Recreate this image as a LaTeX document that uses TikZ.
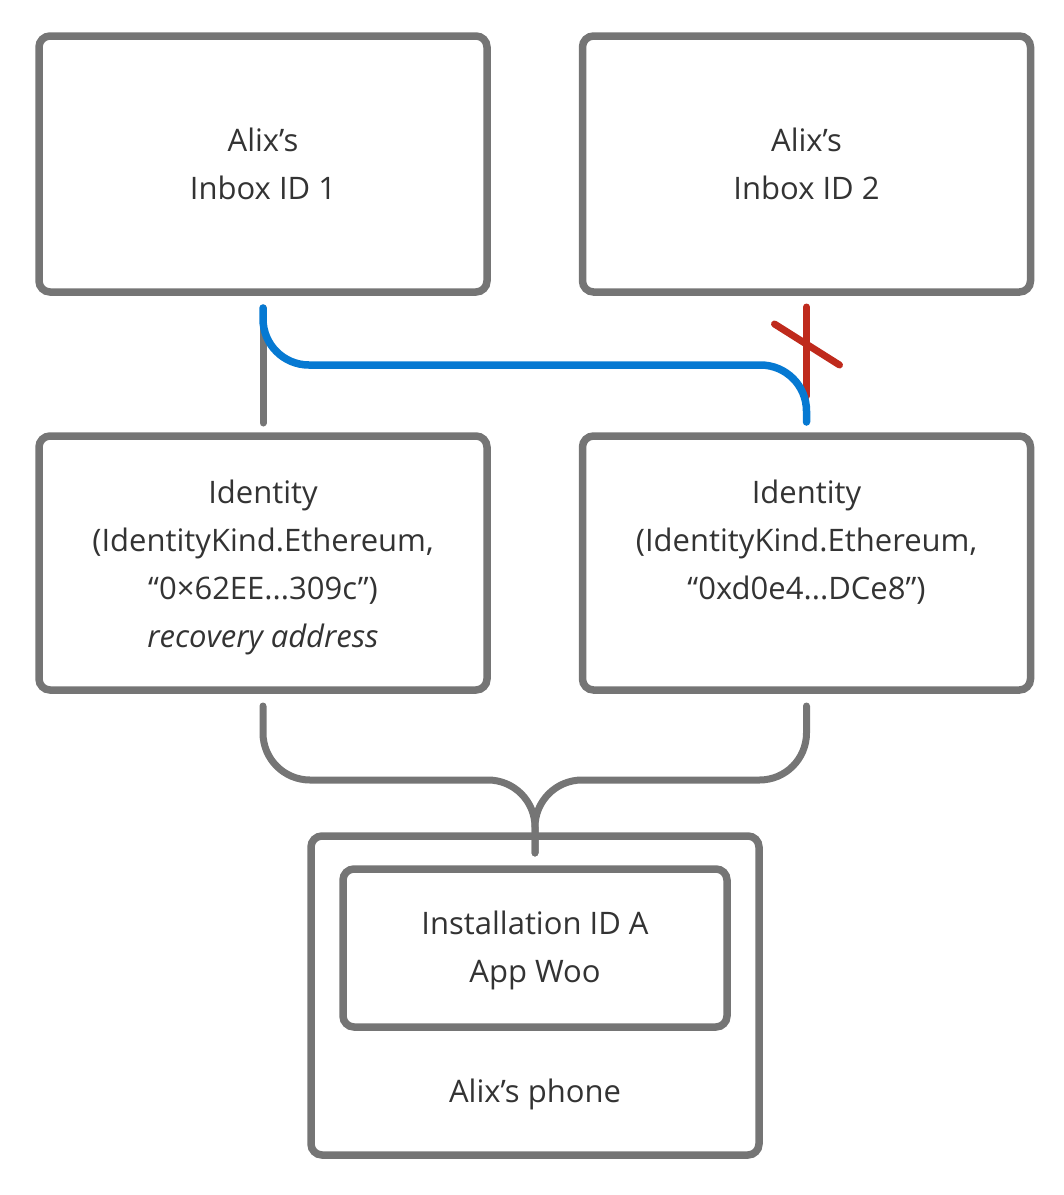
\documentclass[tikz,border=0pt]{standalone}
\usepackage{fontspec}
\setmainfont{Open Sans}
\usetikzlibrary{calc}
\definecolor{boxgray}{HTML}{757575}
\definecolor{linkblue}{HTML}{0679D2}
\definecolor{cutred}{HTML}{BF2A1C}
\definecolor{txt}{HTML}{333333}
\tikzset{
  box/.style={draw=boxgray, line width=7.5pt, rounded corners=11pt, inner sep=0pt, outer sep=0pt,
    align=center, text=txt, font=\fontsize{31}{48}\selectfont},
  label/.style={inner sep=0pt, align=center, text=txt, font=\fontsize{31}{48}\selectfont},
  conn/.style={draw=boxgray, line width=7pt, line cap=round},
  bluelink/.style={draw=linkblue, line width=7.5pt, line cap=round},
  redcut/.style={draw=cutred, line width=7pt, line cap=round},
}
\begin{document}
\begin{tikzpicture}[x=1pt,y=-1pt]
\useasboundingbox (0,0) rectangle (1064,1195);
\node[box, minimum width=448pt, minimum height=256pt] (inbox1) at (263,164) {Alix’s\\Inbox ID 1};
\node[box, minimum width=448pt, minimum height=256pt] (inbox2) at (806.5,164) {Alix’s\\Inbox ID 2};
\node[box, minimum width=448pt, minimum height=254pt] (id1) at (263,563) {};
\node[box, minimum width=448pt, minimum height=254pt] (id2) at (806.5,563) {};
\node[label, anchor=north] (id1text) at ($(id1.north)+(0,44)$) {Identity\\(IdentityKind.Ethereum,\\“0×62EE...309c”)\\\textit{recovery address}};
\node[label, anchor=north] (id2text) at ($(id2.north)+(0,44)$) {Identity\\(IdentityKind.Ethereum,\\“0xd0e4...DCe8”)};
\node[box, minimum width=448pt, minimum height=319pt] (phone) at (535,995.5) {};
\node[box, minimum width=384pt, minimum height=158pt] (inst) at (535,948) {};
\node[label] (insttext) at (535,950) {Installation ID A\\App Woo};
\node[label] (phonelabel) at (535,1094) {Alix’s phone};
% top connectors
\draw[conn] ($(inbox1.south)+(0,16)$) -- ($(id1.north)+(0,-13)$);
\coordinate (xa) at ($(inbox2.south)+(-32,32)$);
\coordinate (xb) at ($(inbox2.south)+(33,73)$);
\draw[redcut] ($(inbox2.south)+(0,15)$) -- ($(id2.north)+(0,-40)$);
\draw[redcut] (xa) -- (xb);
\coordinate (bl) at ($(inbox1.south)+(0,73)$);
\draw[bluelink, rounded corners=46pt] ($(inbox1.south)+(0,16)$) -- (bl) -- (bl -| id2.north) -- ($(id2.north)+(0,-14)$);
% bottom connectors
\coordinate (j) at ($(phone.north)+(0,-56)$);
\draw[conn, rounded corners=47pt] ($(id1.south)+(0,16)$) -- (id1.south |- j) -- (j) -- ($(phone.north)+(0,17)$);
\draw[conn, rounded corners=47pt] ($(id2.south)+(0,16)$) -- (id2.south |- j) -- (j) -- ($(phone.north)+(0,17)$);
\end{tikzpicture}
\end{document}
